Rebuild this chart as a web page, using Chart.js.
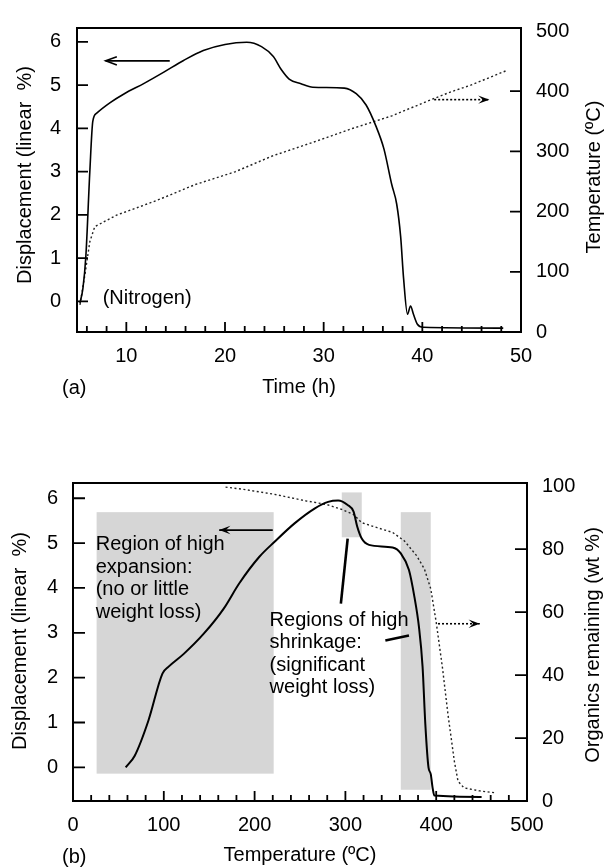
<!DOCTYPE html>
<html>
<head>
<meta charset="utf-8">
<script src="https://cdn.jsdelivr.net/npm/chart.js@4.4.0/dist/chart.umd.min.js"></script>
<style>
  html, body { margin: 0; padding: 0; background: #fff; }
  .wrap { position: absolute; left: 0; width: 614px; }
  #boxA { top: 0; height: 410px; }
  #boxB { top: 430px; height: 438px; }
</style>
</head>
<body>
<div class="wrap" id="boxA"><canvas id="chartA" width="614" height="410"></canvas></div>
<div class="wrap" id="boxB"><canvas id="chartB" width="614" height="438"></canvas></div>
<script>
// (a) displacement vs time
const dispTimeA = [5.3, 5.6, 5.9, 6.3, 6.6, 7.0, 8.4, 9.8, 11.8, 13.8, 15.8, 17.8, 20.0, 22.2, 23.7, 24.9, 25.7, 26.5, 27.7, 28.9, 32.1, 33.3, 34.3, 35.3, 36.1, 36.9, 37.4, 37.8, 38.1, 38.5, 38.8, 39.1, 39.5, 40.1, 48.2];
const dispA = [-0.04, 0.3, 1.05, 3.0, 4.16, 4.35, 4.6, 4.8, 5.04, 5.3, 5.57, 5.8, 5.94, 5.99, 5.89, 5.66, 5.36, 5.14, 5.03, 4.95, 4.93, 4.8, 4.54, 4.05, 3.53, 2.7, 2.25, 1.5, 0.53, -0.3, -0.11, -0.3, -0.53, -0.6, -0.62];
// (a) furnace temperature vs time
const tempTimeA = [5.3, 5.8, 6.3, 6.8, 9.0, 13.0, 17.0, 21.0, 24.9, 28.9, 32.9, 36.9, 40.9, 42.9, 44.9, 48.5];
const tempA = [45, 95, 150, 175, 194, 218, 245, 266, 293, 315, 338, 359, 386, 399, 410, 434];

// (b) displacement vs temperature
const dispTempB = [58, 68, 83, 98.5, 105, 122, 144, 166, 183, 205, 222, 244, 266, 281, 292, 302.5, 309, 313, 318, 326, 352, 361, 370, 376, 381, 385, 388, 391.5, 394, 396, 398, 450];
const dispB = [0, 0.26, 1.04, 2.09, 2.24, 2.53, 2.98, 3.54, 4.1, 4.69, 5.03, 5.44, 5.77, 5.92, 5.95, 5.85, 5.7, 5.37, 5.1, 4.96, 4.9, 4.77, 4.4, 3.8, 3.13, 2.24, 0.97, 0, -0.15, -0.45, -0.63, -0.66];
// (b) organics remaining vs temperature
const orgTempB = [168, 187.5, 222, 257, 279, 296, 309, 318, 335, 352, 365, 378.5, 387, 394, 400, 407, 413, 420, 424, 430.5, 448, 465];
const orgB = [99.7, 99, 97.4, 95.3, 94.2, 92.6, 91, 88.4, 86.8, 85.3, 82.6, 77.9, 73.7, 67.4, 56.8, 42.1, 27.4, 12.6, 6.3, 4.2, 3.2, 2.6];

// tick labels
const timeTicks = [10, 20, 30, 40, 50];
const dispTicks = [0, 1, 2, 3, 4, 5, 6];
const tempTicksA = [0, 100, 200, 300, 400, 500];
const tempTicksB = [0, 100, 200, 300, 400, 500];
const orgTicks = [0, 20, 40, 60, 80, 100];

// shaded regions in (b): [tFrom, tTo, dispFrom, dispTo]
const regionsB = [[26, 221, -0.14, 5.69], [296, 318, 5.13, 6.13], [361, 394, -0.5, 5.69]];

const FONT = '"Liberation Sans", Arial, sans-serif';
Chart.defaults.font.family = FONT;
Chart.defaults.font.size = 20;
Chart.defaults.color = '#000';

function pts(xs, ys) { return xs.map((x, i) => ({ x: x, y: ys[i] })); }
function setTicks(list) { return s => { s.ticks = list.map(v => ({ value: v })); }; }

function arrow(ctx, x1, y1, x2, y2, dash, head) {
  ctx.save();
  ctx.lineWidth = 1.6;
  ctx.setLineDash(dash);
  ctx.beginPath(); ctx.moveTo(x1, y1); ctx.lineTo(x2, y2); ctx.stroke();
  ctx.setLineDash([]);
  const a = Math.atan2(y2 - y1, x2 - x1), L = 12, w = 0.36;
  const ax = x2 - L * Math.cos(a - w), ay = y2 - L * Math.sin(a - w);
  const bx = x2 - L * Math.cos(a + w), by = y2 - L * Math.sin(a + w);
  ctx.beginPath();
  ctx.moveTo(ax, ay); ctx.lineTo(x2, y2); ctx.lineTo(bx, by);
  if (head === 'open') {
    ctx.stroke();
  } else {
    ctx.lineTo(x2 - 0.55 * L * Math.cos(a), y2 - 0.55 * L * Math.sin(a));
    ctx.closePath(); ctx.fill();
  }
  ctx.restore();
}

function rotText(ctx, text, x, y, ang) {
  ctx.save();
  ctx.translate(x, y); ctx.rotate(ang);
  ctx.textAlign = 'center'; ctx.textBaseline = 'middle';
  ctx.fillText(text, 0, 0);
  ctx.restore();
}

// frame, inward ticks and notes
const decor = {
  id: 'decor',
  beforeDatasetsDraw(chart, args, o) {
    const { ctx, scales } = chart;
    ctx.save();
    ctx.fillStyle = '#d6d6d6';
    (o.regions || []).forEach(r => {
      const x1 = scales.x.getPixelForValue(r[0]), x2 = scales.x.getPixelForValue(r[1]);
      const y1 = scales.y.getPixelForValue(r[3]), y2 = scales.y.getPixelForValue(r[2]);
      ctx.fillRect(x1, y1, x2 - x1, y2 - y1);
    });
    ctx.restore();
  },
  afterDatasetsDraw(chart, args, o) {
    const { ctx, chartArea: a, scales } = chart;
    ctx.save();
    ctx.strokeStyle = '#000'; ctx.fillStyle = '#000';
    ctx.lineWidth = 2;
    ctx.strokeRect(a.left, a.top, a.right - a.left, a.bottom - a.top);
    ctx.lineWidth = 1.8;
    ctx.beginPath();
    for (let v = o.xMinorStart; v < scales.x.max - 0.01; v += o.xMinorStep) {
      const px = scales.x.getPixelForValue(v);
      const len = v % o.xMajorStep === 0 ? o.majorLen : o.minorLen;
      ctx.moveTo(px, a.bottom); ctx.lineTo(px, a.bottom - len);
    }
    dispTicks.forEach(v => {
      const py = scales.y.getPixelForValue(v);
      ctx.moveTo(a.left, py); ctx.lineTo(a.left + o.yLen, py);
    });
    o.rightMarks.forEach(v => {
      const py = scales.y2.getPixelForValue(v);
      ctx.moveTo(a.right, py); ctx.lineTo(a.right - o.yLen, py);
    });
    ctx.stroke();

    (o.leaders || []).forEach(l => {
      ctx.save();
      ctx.lineWidth = 2.6;
      ctx.beginPath();
      ctx.moveTo(scales.x.getPixelForValue(l[0]), scales.y.getPixelForValue(l[1]));
      ctx.lineTo(scales.x.getPixelForValue(l[2]), scales.y.getPixelForValue(l[3]));
      ctx.stroke();
      ctx.restore();
    });
    (o.arrows || []).forEach(r => {
      const sy = scales[r.axis];
      arrow(ctx, scales.x.getPixelForValue(r.x1), sy.getPixelForValue(r.y), scales.x.getPixelForValue(r.x2), sy.getPixelForValue(r.y), r.dash, r.head);
    });
    ctx.font = '20px ' + FONT;
    ctx.textAlign = 'left'; ctx.textBaseline = 'middle';
    (o.notes || []).forEach(n => {
      const x = scales.x.getPixelForValue(n.x);
      n.lines.forEach((t, i) => ctx.fillText(t, x, scales.y.getPixelForValue(n.y) + i * 22.5));
    });
    // axis titles
    const t = o.titles;
    rotText(ctx, t.left[0], t.left[1], t.left[2], -Math.PI / 2);
    rotText(ctx, t.right[0], t.right[1], t.right[2], -Math.PI / 2);
    rotText(ctx, t.bottom[0], (a.left + a.right) / 2, t.bottom[1], 0);
    ctx.textAlign = 'left';
    ctx.fillText(t.tag[0], t.tag[1], t.tag[2]);
    ctx.restore();
  }
};

function axisX(min, max, ticks, h, pad) {
  return {
    type: 'linear', min: min, max: max, afterBuildTicks: setTicks(ticks),
    afterFit: s => { s.height = h; },
    grid: { display: false, drawTicks: false }, border: { display: false },
    ticks: { padding: pad, maxRotation: 0, autoSkip: false }
  };
}
function axisY(pos, min, max, ticks, w, pad) {
  return {
    type: 'linear', position: pos, min: min, max: max, afterBuildTicks: setTicks(ticks),
    afterFit: s => { s.width = w; },
    grid: { display: false, drawTicks: false }, border: { display: false },
    ticks: { padding: pad, autoSkip: false }
  };
}

new Chart(document.getElementById('chartA'), {
  type: 'line',
  data: {
    datasets: [
      { data: pts(dispTimeA, dispA), yAxisID: 'y', borderColor: '#000', borderWidth: 1.6, pointRadius: 0, cubicInterpolationMode: 'monotone' },
      { data: pts(tempTimeA, tempA), yAxisID: 'y2', borderColor: '#222', borderWidth: 1.4, borderDash: [2, 2.5], pointRadius: 0 }
    ]
  },
  options: {
    responsive: false, animation: false, events: [],
    layout: { padding: { top: 19, left: 0, right: 0, bottom: 0 } },
    scales: {
      x: axisX(5, 50, timeTicks, 78, 12),
      y: axisY('left', -0.71, 6.32, dispTicks, 77, 16),
      y2: axisY('right', 0, 505, tempTicksA, 93, 15)
    },
    plugins: {
      legend: { display: false }, tooltip: { enabled: false },
      decor: {
        xMinorStart: 6, xMinorStep: 2, xMajorStep: 10, majorLen: 10, minorLen: 6, yLen: 11,
        rightMarks: [100, 200, 300, 400],
        arrows: [
          { x1: 14.4, x2: 7.9, y: 5.56, axis: 'y', dash: [], head: 'open' },
          { x1: 41.2, x2: 46.8, y: 386, axis: 'y2', dash: [2, 2], head: 'filled' }
        ],
        notes: [{ x: 7.6, y: 0.07, lines: ['(Nitrogen)'] }],
        titles: {
          left: ['Displacement (linear  %)', 25, 175],
          right: ['Temperature (ºC)', 594, 177],
          bottom: ['Time (h)', 387],
          tag: ['(a)', 62, 388]
        }
      }
    }
  },
  plugins: [decor]
});

new Chart(document.getElementById('chartB'), {
  type: 'line',
  data: {
    datasets: [
      { data: pts(dispTempB, dispB), yAxisID: 'y', borderColor: '#000', borderWidth: 2, pointRadius: 0, cubicInterpolationMode: 'monotone' },
      { data: pts(orgTempB, orgB), yAxisID: 'y2', borderColor: '#222', borderWidth: 1.4, borderDash: [2, 2.5], pointRadius: 0 }
    ]
  },
  options: {
    responsive: false, animation: false, events: [],
    layout: { padding: { top: 53, left: 0, right: 0, bottom: 0 } },
    scales: {
      x: axisX(0, 500, tempTicksB, 67, 12),
      y: axisY('left', -0.75, 6.34, dispTicks, 73, 15),
      y2: axisY('right', 0, 101, orgTicks, 87, 15)
    },
    plugins: {
      legend: { display: false }, tooltip: { enabled: false },
      decor: {
        regions: regionsB,
        xMinorStart: 20, xMinorStep: 20, xMajorStep: 100, majorLen: 10, minorLen: 6, yLen: 12,
        rightMarks: [20, 40, 60, 80],
        leaders: [[295, 3.65, 302.5, 5.1], [344, 2.83, 370, 2.94]],
        arrows: [
          { x1: 220, x2: 161, y: 5.29, axis: 'y', dash: [], head: 'filled' },
          { x1: 402, x2: 448, y: 56.3, axis: 'y2', dash: [2, 2], head: 'filled' }
        ],
        notes: [
          { x: 25, y: 4.96, lines: ['Region of high', 'expansion:', '(no or little', 'weight loss)'] },
          { x: 216.5, y: 3.28, lines: ['Regions of high', 'shrinkage:', '(significant', 'weight loss)'] }
        ],
        titles: {
          left: ['Displacement (linear  %)', 20, 211],
          right: ['Organics remaining (wt %)', 593, 215],
          bottom: ['Temperature (ºC)', 425],
          tag: ['(b)', 62, 427]
        }
      }
    }
  },
  plugins: [decor]
});
</script>
</body>
</html>
